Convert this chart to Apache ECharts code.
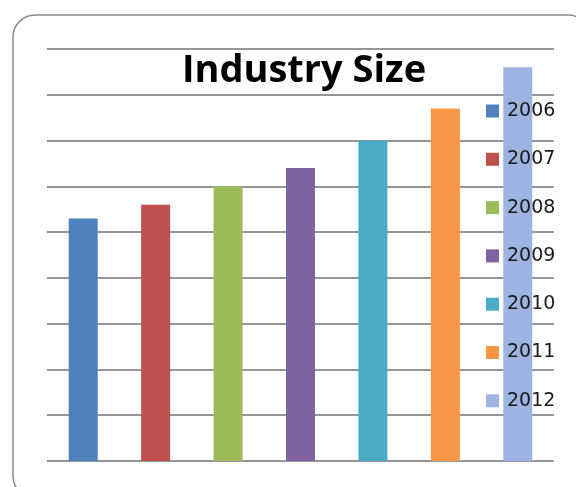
<!DOCTYPE html>
<html>
<head>
<meta charset="utf-8">
<script src="https://cdn.jsdelivr.net/npm/echarts@6/dist/echarts.min.js"></script>
<style>
    html, body { margin: 0; padding: 0; background: #fff; }
    #chart { width: 576px; height: 487px; }
</style>
</head>
<body>
<div id="chart"></div>
<script>
// 数据
var years = ['2006', '2007', '2008', '2009', '2010', '2011', '2012']
var sizes = [5.3, 5.6, 6.0, 6.4, 7.0, 7.7, 8.6]
var colors = ['#4F81BD', '#C0504D', '#9BBB59', '#8064A2', '#4BACC6', '#F79646', '#9DB3E2']

var chart = echarts.init(document.getElementById('chart'))

// 每一年一个系列, 用于图例
var series = years.map(function (y, i) {
    var d = years.map(function (_, j) { return j === i ? sizes[i] : '-' })
    return {
        name: y,
        type: 'bar',
        stack: 'all',
        barWidth: 29,
        itemStyle: { color: colors[i] },
        data: d
    }
})

var option = {
    animation: false,
    title: {
        text: 'Industry Size',
        left: 299,
        textAlign: 'center',
        top: 47,
        textStyle: { fontFamily: 'Open Sans', fontWeight: 'bold', fontSize: 38, color: '#000' }
    },
    legend: {
        orient: 'vertical',
        left: 486,
        top: 101,
        padding: 0,
        itemWidth: 13,
        itemHeight: 13,
        itemGap: 28.3,
        icon: 'rect',
        textStyle: { fontFamily: 'DejaVu Sans', fontSize: 19, color: '#1a1a1a', lineHeight: 20, padding: [0, 0, 0, 3] },
        data: years
    },
    grid: { left: 47, right: 22, top: 49, bottom: 26 },
    xAxis: {
        type: 'category',
        data: years,
        axisLine: { show: false },
        axisTick: { show: false },
        axisLabel: { show: false }
    },
    yAxis: {
        type: 'value',
        min: 0,
        max: 9,
        interval: 1,
        axisLabel: { show: false },
        splitLine: { lineStyle: { color: '#969696', width: 2 } }
    },
    graphic: [{
        type: 'rect',
        shape: { x: 13, y: 15, width: 577, height: 483, r: 22 },
        style: { fill: 'none', stroke: '#8a8a8a', lineWidth: 1.5 },
        silent: true
    }],
    series: series
}

chart.setOption(option)
</script>
</body>
</html>
